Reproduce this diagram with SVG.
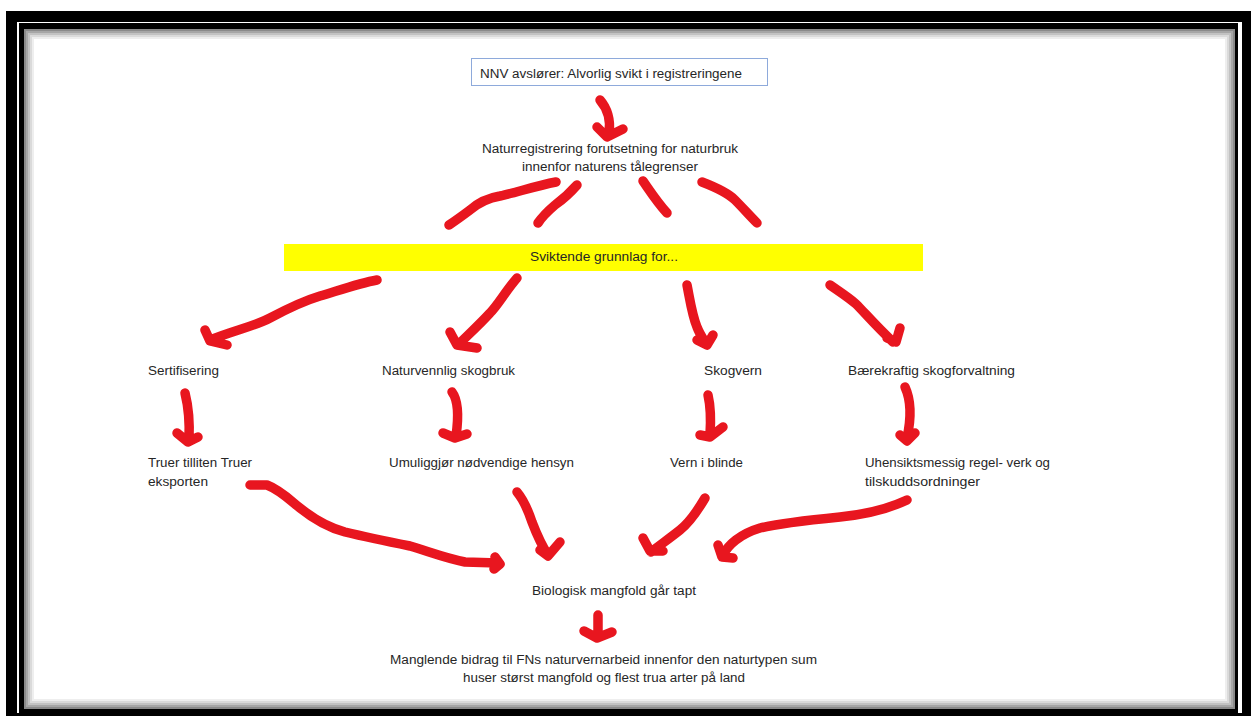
<svg xmlns="http://www.w3.org/2000/svg" width="1251" height="716" viewBox="0 0 1251 716">
<style>
.t{font-family:"Liberation Sans",Arial,sans-serif;font-size:12.5px;fill:#262626}
.r{fill:none;stroke:#e8161f;stroke-width:9.5;stroke-linecap:round;stroke-linejoin:round}
</style>
<rect x="0" y="0" width="1251" height="716" fill="#ffffff"/>
<g id="frame">
<rect x="6" y="11" width="1245" height="705" fill="#000"/>
<rect x="17" y="22" width="1225" height="691" fill="#fff"/>
<rect x="19" y="23" width="1219" height="690" fill="#000"/>
<rect x="24" y="29" width="1211" height="680" fill="#fff"/>
<g fill="none" stroke-width="2">
<rect x="25" y="30" width="1209" height="678" stroke="#8a8a8a"/>
<rect x="27" y="32" width="1205" height="674" stroke="#a6a6a6"/>
<rect x="29" y="34" width="1201" height="670" stroke="#c2c2c2"/>
<rect x="31" y="36" width="1197" height="666" stroke="#dadada"/>
<rect x="33" y="38" width="1193" height="662" stroke="#eeeeee"/>
</g>
</g>
<g id="n1"><rect x="471.5" y="58.5" width="296" height="27" fill="#fff" stroke="#8eaadb" stroke-width="1"/><text class="t" x="480" y="78" textLength="262" lengthAdjust="spacingAndGlyphs">NNV avslører: Alvorlig svikt i registreringene</text></g>
<g id="n2"><text class="t" x="482" y="153" textLength="256" lengthAdjust="spacingAndGlyphs">Naturregistrering forutsetning for naturbruk</text><text class="t" x="522" y="171" textLength="176" lengthAdjust="spacingAndGlyphs">innenfor naturens tålegrenser</text></g>
<g id="n3"><rect x="284" y="244" width="639" height="27" fill="#ffff00"/><text class="t" x="530" y="261" textLength="148" lengthAdjust="spacingAndGlyphs">Sviktende grunnlag for...</text></g>
<g id="n4"><text class="t" x="148" y="375" textLength="71" lengthAdjust="spacingAndGlyphs">Sertifisering</text></g>
<g id="n5"><text class="t" x="382" y="375" textLength="133" lengthAdjust="spacingAndGlyphs">Naturvennlig skogbruk</text></g>
<g id="n6"><text class="t" x="704" y="375" textLength="58" lengthAdjust="spacingAndGlyphs">Skogvern</text></g>
<g id="n7"><text class="t" x="848" y="375" textLength="167" lengthAdjust="spacingAndGlyphs">Bærekraftig skogforvaltning</text></g>
<g id="n8"><text class="t" x="148" y="467" textLength="104" lengthAdjust="spacingAndGlyphs">Truer tilliten Truer</text><text class="t" x="148" y="486" textLength="60" lengthAdjust="spacingAndGlyphs">eksporten</text></g>
<g id="n9"><text class="t" x="389" y="467" textLength="185" lengthAdjust="spacingAndGlyphs">Umuliggjør nødvendige hensyn</text></g>
<g id="n10"><text class="t" x="670" y="467" textLength="73" lengthAdjust="spacingAndGlyphs">Vern i blinde</text></g>
<g id="n11"><text class="t" x="865" y="467" textLength="185" lengthAdjust="spacingAndGlyphs">Uhensiktsmessig regel- verk og</text><text class="t" x="865" y="486" textLength="115" lengthAdjust="spacingAndGlyphs">tilskuddsordninger</text></g>
<g id="n12"><text class="t" x="532" y="595" textLength="164" lengthAdjust="spacingAndGlyphs">Biologisk mangfold går tapt</text></g>
<g id="n13"><text class="t" x="390" y="664" textLength="427" lengthAdjust="spacingAndGlyphs">Manglende bidrag til FNs naturvernarbeid innenfor den naturtypen sum</text><text class="t" x="463" y="682" textLength="282" lengthAdjust="spacingAndGlyphs">huser størst mangfold og flest trua arter på land</text></g>
<g id="connectors" class="r">
<path class="r" d="M600,100 C607,108 611,120 609,133 M597,127 L607,137 L623,129"/>
<path class="r" d="M556,182 C535,186 515,193 500,196 C488,198 478,203 470,210 C462,216 455,221 449,225"/>
<path class="r" d="M577,185 C570,193 562,200 555,205 C548,211 542,217 538,223"/>
<path class="r" d="M643,181 C650,191 657,202 667,213"/>
<path class="r" d="M702,182 C715,187 727,192 735,200 C743,208 750,216 757,223"/>
<path class="r" d="M377,280 C360,283 340,290 320,296 C300,302 285,310 270,318 C255,326 235,330 210,340 M205,330 L210,341 L227,345"/>
<path class="r" d="M517,278 C505,292 498,305 490,313 C480,324 468,335 458,345 M450,332 L457,345 L477,348"/>
<path class="r" d="M687,285 C690,300 692,315 697,327 C700,335 704,340 707,345 M697,340 L707,345 L713,335"/>
<path class="r" d="M830,285 C840,292 848,297 856,304 C865,313 875,325 893,342 M900,328 L896,342 L887,338"/>
<path class="r" d="M185,393 C188,405 190,418 189,440 M177,433 L188,442 L198,437"/>
<path class="r" d="M452,392 C458,400 459,415 456,436 M443,433 L455,438 L467,434"/>
<path class="r" d="M708,395 C711,408 711,420 710,435 M700,435 L710,437 L723,427"/>
<path class="r" d="M905,387 C911,400 912,415 907,438 M900,435 L907,441 L915,433"/>
<path class="r" d="M250,485 L267,485 C280,490 290,500 300,508 C315,520 330,528 345,532 C370,538 395,543 410,546 C430,552 445,558 465,562 L498,563 M495,557 L500,564 L494,569"/>
<path class="r" d="M517,492 C522,498 528,510 532,522 C537,535 542,546 548,555 M540,550 L548,556 L560,542"/>
<path class="r" d="M705,498 C698,510 690,522 680,530 C670,538 660,545 651,552 M643,538 L650,551 L663,551"/>
<path class="r" d="M907,500 C890,508 870,514 840,517 C810,520 780,523 760,528 C740,534 728,545 723,555 M718,545 L722,557 L733,558"/>
<path class="r" d="M598,615 L598,634 M584,631 L597,638 L612,632"/>
</g>
</svg>
